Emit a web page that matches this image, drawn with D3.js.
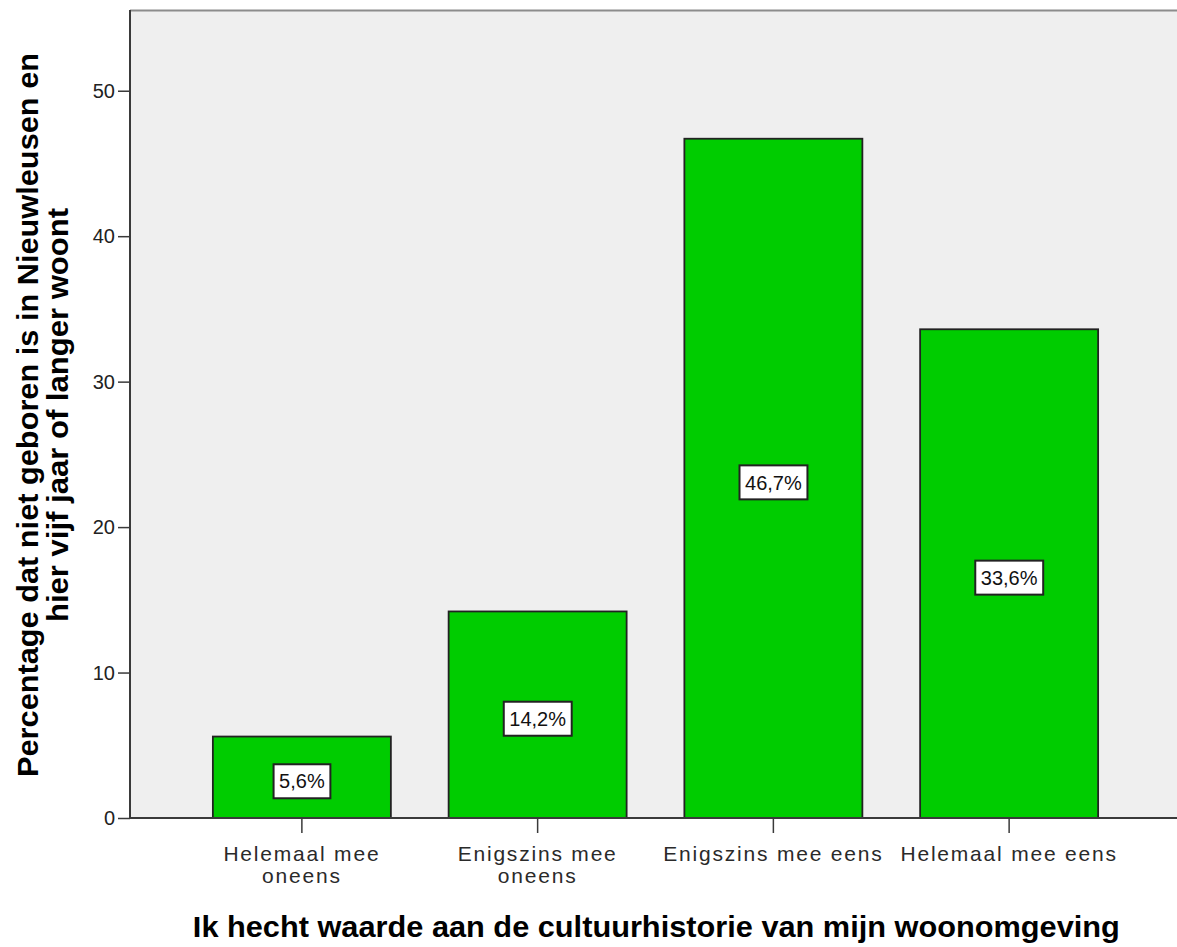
<!DOCTYPE html>
<html>
<head>
<meta charset="utf-8">
<script src="https://cdn.jsdelivr.net/npm/d3@7"></script>
<style>
  html, body { margin: 0; padding: 0; background: #fff; }
  svg { display: block; }
  text { font-family: "Liberation Sans", Arial, sans-serif; }
</style>
</head>
<body>
<svg id="chart" width="1177" height="947"></svg>
<script>
// ---- data ----
const categories = ["Helemaal mee oneens", "Enigszins mee oneens", "Enigszins mee eens", "Helemaal mee eens"];
const tickLabelLines = [["Helemaal mee", "oneens"], ["Enigszins mee", "oneens"], ["Enigszins mee eens"], ["Helemaal mee eens"]];
const values = [5.6, 14.2, 46.7, 33.6];
const yTicks = [0, 10, 20, 30, 40, 50];
const yMax = 55.55;
const xTitle = "Ik hecht waarde aan de cultuurhistorie van mijn woonomgeving";
const yTitleLines = ["Percentage dat niet geboren is in Nieuwleusen en", "hier vijf jaar of langer woont"];

// ---- layout ----
const svg = d3.select("#chart");
const plotL = 130, plotR = 1177, plotT = 10, plotB = 818;

const x = d3.scaleBand().domain(categories).range([184, 1127]).paddingInner(0.245).paddingOuter(0.1225);
const y = d3.scaleLinear().domain([0, yMax]).range([plotB, plotT]);

const nl = d3.formatLocale({decimal: ",", thousands: ".", grouping: [3], currency: ["", "€"]});
const fmt = v => nl.format(".1f")(v) + "%";

// plot background
svg.append("rect").attr("x", plotL).attr("y", plotT).attr("width", plotR - plotL).attr("height", plotB - plotT)
  .attr("fill", "#efefef");
// top border
svg.append("line").attr("x1", plotL).attr("x2", plotR).attr("y1", plotT + 0.5).attr("y2", plotT + 0.5)
  .attr("stroke", "#8c8c8c").attr("stroke-width", 2);

// bars
svg.append("g").selectAll("rect").data(values).join("rect")
  .attr("x", (d, i) => x(categories[i]))
  .attr("y", d => y(d))
  .attr("width", x.bandwidth())
  .attr("height", d => y(0) - y(d))
  .attr("fill", "#00cc00")
  .attr("stroke", "#222")
  .attr("stroke-width", 1.8);

// y axis
const yAxis = svg.append("g").attr("transform", `translate(${plotL},0)`)
  .call(d3.axisLeft(y).tickValues(yTicks).tickSize(12).tickPadding(3).tickFormat(d3.format("d")));
yAxis.select(".domain").attr("d", `M0,${plotT}V${plotB}`).attr("stroke", "#3a3a3a").attr("stroke-width", 2);
yAxis.selectAll(".tick line").attr("stroke", "#3a3a3a").attr("stroke-width", 1.5);
yAxis.selectAll(".tick text").attr("font-size", 20).attr("fill", "#222").attr("dy", "0.34em")
  .style("font-family", '"Liberation Sans", Arial, sans-serif');

// x axis
const xAxis = svg.append("g").attr("transform", `translate(0,${plotB})`)
  .call(d3.axisBottom(x).tickSize(15).tickFormat(""));
xAxis.select(".domain").attr("d", `M${plotL},0H${plotR}`).attr("stroke", "#3a3a3a").attr("stroke-width", 2);
xAxis.selectAll(".tick line").attr("stroke", "#3a3a3a").attr("stroke-width", 1.5);
xAxis.selectAll(".tick").each(function(d, i) {
  const t = d3.select(this).append("text")
    .attr("text-anchor", "middle").attr("font-size", 21).attr("fill", "#2a2a2a")
    .style("letter-spacing", "1.8px")
    .style("font-family", '"Liberation Sans", Arial, sans-serif');
  tickLabelLines[i].forEach((line, j) => {
    t.append("tspan").attr("x", 0).attr("y", 42.7 + j * 22.6).text(line);
  });
});

// value labels
const lab = svg.append("g").selectAll("g").data(values).join("g")
  .attr("transform", (d, i) => `translate(${x(categories[i]) + x.bandwidth() / 2},${(y(d) + y(0)) / 2 + 4})`);
lab.append("text").attr("text-anchor", "middle").attr("dy", "0.36em")
  .attr("font-size", 20).attr("fill", "#111").text(d => fmt(d));
lab.each(function() {
  const g = d3.select(this);
  const bb = g.select("text").node().getBBox();
  g.insert("rect", "text")
    .attr("x", bb.x - 5.5).attr("y", -17).attr("width", bb.width + 11).attr("height", 34)
    .attr("fill", "#fff").attr("stroke", "#222").attr("stroke-width", 2);
});

// x title
svg.append("text").attr("x", (192.7 + 1120) / 2).attr("y", 937)
  .attr("text-anchor", "middle").attr("font-size", 29).attr("font-weight", "bold").attr("fill", "#000")
  .attr("textLength", 927).attr("lengthAdjust", "spacingAndGlyphs")
  .text(xTitle);

// y title
const yt = svg.append("text").attr("transform", "translate(0,415) rotate(-90)")
  .attr("text-anchor", "middle").attr("font-size", 29).attr("font-weight", "bold").attr("fill", "#000");
yt.append("tspan").attr("x", 0).attr("y", 38).attr("textLength", 724).attr("lengthAdjust", "spacingAndGlyphs").text(yTitleLines[0]);
yt.append("tspan").attr("x", 0).attr("y", 68).attr("textLength", 414).attr("lengthAdjust", "spacingAndGlyphs").text(yTitleLines[1]);
</script>
</body>
</html>
